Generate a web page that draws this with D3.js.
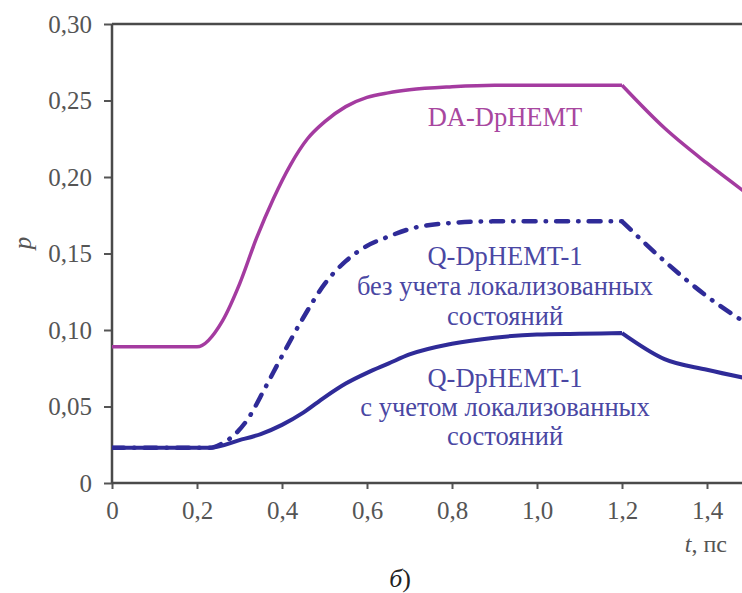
<!DOCTYPE html>
<html>
<head>
<meta charset="utf-8">
<script src="https://cdn.jsdelivr.net/npm/d3@7"></script>
<style>
  body { margin: 0; background: #fff; }
  svg { display: block; }
  .tick text { font-family: "Liberation Serif", "Times New Roman", serif; font-size: 25px; fill: #555; }
  .note { font-family: "Liberation Serif", "Times New Roman", serif; font-size: 26.5px; text-anchor: middle; }
</style>
</head>
<body>
<div id="chart"></div>
<script>
// time, ps  (the break at 1.2 ps is kept as a sharp corner)
var tDA = [0, 0.2, 0.26, 0.30, 0.34, 0.38, 0.42, 0.46, 0.50, 0.55, 0.60, 0.65, 0.70, 0.80, 0.90, 1.2, 1.3, 1.4, 1.5];
var pDA = [0.089, 0.089, 0.106, 0.130, 0.160, 0.186, 0.208, 0.225, 0.236, 0.246, 0.252, 0.255, 0.257, 0.259, 0.260, 0.260, 0.232, 0.209, 0.188];

var tNoLoc = [0, 0.23, 0.26, 0.29, 0.32, 0.36, 0.40, 0.45, 0.50, 0.55, 0.60, 0.65, 0.70, 0.80, 0.90, 1.0, 1.2, 1.3, 1.4, 1.5];
var pNoLoc = [0.023, 0.023, 0.026, 0.032, 0.042, 0.062, 0.083, 0.108, 0.130, 0.145, 0.155, 0.161, 0.166, 0.170, 0.171, 0.171, 0.171, 0.145, 0.122, 0.103];

var tLoc = [0, 0.23, 0.30, 0.35, 0.40, 0.45, 0.50, 0.55, 0.60, 0.65, 0.70, 0.80, 0.90, 1.0, 1.1, 1.2, 1.3, 1.4, 1.5];
var pLoc = [0.023, 0.023, 0.028, 0.032, 0.038, 0.046, 0.056, 0.065, 0.072, 0.078, 0.084, 0.091, 0.095, 0.097, 0.0975, 0.098, 0.081, 0.074, 0.068];

var xTicks = [0, 0.2, 0.4, 0.6, 0.8, 1.0, 1.2, 1.4];
var yTicks = [0, 0.05, 0.10, 0.15, 0.20, 0.25, 0.30];
var tBreak = 1.2;

var width = 742, height = 593;
var mLeft = 112, mTop = 24, mBottom = 483;
var serif = '"Liberation Serif", "Times New Roman", serif';

var svg = d3.select('#chart').append('svg')
  .attr('width', width)
  .attr('height', height);

var x = d3.scaleLinear().domain([0, 1.5]).range([mLeft, mLeft + 1.5 * 425]);
var y = d3.scaleLinear().domain([0, 0.30]).range([mBottom, mTop]);

svg.append('defs').append('clipPath').attr('id', 'plot')
  .append('rect').attr('x', mLeft).attr('y', mTop).attr('width', width - mLeft).attr('height', mBottom - mTop);

// axes
svg.append('g')
  .attr('transform', 'translate(' + mLeft + ',0)')
  .attr('font-family', serif)
  .call(d3.axisLeft(y).tickValues(yTicks).tickSize(8).tickSizeOuter(0).tickPadding(12)
    .tickFormat(function (d) { return d === 0 ? '0' : d3.format('.2f')(d).replace('.', ','); }));

svg.append('g')
  .attr('transform', 'translate(0,' + mBottom + ')')
  .call(d3.axisBottom(x).tickValues(xTicks).tickSize(6).tickSizeOuter(0).tickPadding(12)
    .tickFormat(function (d) { return d === 0 ? '0' : d3.format('.1f')(d).replace('.', ','); }));

svg.selectAll('.domain').remove();
svg.selectAll('.tick line').attr('stroke', '#555').attr('stroke-width', 2);
svg.selectAll('.tick text').attr('font-family', serif);

// frame
svg.append('line').attr('x1', mLeft).attr('x2', width).attr('y1', mTop).attr('y2', mTop)
  .attr('stroke', '#4a4a4a').attr('stroke-width', 2.5);
svg.append('line').attr('x1', mLeft).attr('x2', width).attr('y1', mBottom).attr('y2', mBottom)
  .attr('stroke', '#4a4a4a').attr('stroke-width', 2.5);
svg.append('line').attr('x1', mLeft).attr('x2', mLeft).attr('y1', mTop).attr('y2', mBottom)
  .attr('stroke', '#4a4a4a').attr('stroke-width', 2.5);

var line = d3.line()
  .x(function (d) { return x(d[0]); })
  .y(function (d) { return y(d[1]); })
  .curve(d3.curveMonotoneX);

// two pieces so the 1.2 ps break stays sharp
function pieces(ts, ps) {
  var pts = d3.zip(ts, ps);
  return [pts.filter(function (d) { return d[0] <= tBreak; }),
          pts.filter(function (d) { return d[0] >= tBreak; })];
}

var plot = svg.append('g').attr('clip-path', 'url(#plot)');

function drawSeries(ts, ps, color, w, dash) {
  var p = plot.append('path')
    .attr('d', pieces(ts, ps).map(line).join(''))
    .attr('fill', 'none').attr('stroke', color).attr('stroke-width', w)
    .attr('stroke-linejoin', 'round');
  if (dash) p.attr('stroke-dasharray', dash).attr('stroke-linecap', 'round');
}

drawSeries(tLoc, pLoc, '#2f2b98', 4);
drawSeries(tNoLoc, pNoLoc, '#2f2b98', 4.5, '12,10,0.5,10');
drawSeries(tDA, pDA, '#a43ba0', 3.5);

// labels
svg.append('text').attr('class', 'note').attr('x', 505).attr('y', 126)
  .attr('font-family', serif).attr('fill', '#a8479f').text('DA-DpHEMT');

var upper = ['Q-DpHEMT-1', 'без учета локализованных', 'состояний'];
upper.forEach(function (s, i) {
  svg.append('text').attr('class', 'note').attr('x', 505).attr('y', 265 + i * 30)
    .attr('font-family', serif).attr('fill', '#4a47a3').text(s);
});
var lower = ['Q-DpHEMT-1', 'с учетом локализованных', 'состояний'];
lower.forEach(function (s, i) {
  svg.append('text').attr('class', 'note').attr('x', 505).attr('y', 387 + i * 29)
    .attr('font-family', serif).attr('fill', '#4a47a3').text(s);
});

svg.append('text')
  .attr('transform', 'translate(31,243) rotate(-90)')
  .attr('text-anchor', 'middle')
  .style('font-family', serif).style('font-size', '25px')
  .style('font-style', 'italic').attr('fill', '#555').text('p');

var tl = svg.append('text').attr('x', 727).attr('y', 552).attr('text-anchor', 'end')
  .style('font-family', serif).style('font-size', '24px').attr('fill', '#555');
tl.append('tspan').style('font-style', 'italic').text('t');
tl.append('tspan').text(', пс');

var cap = svg.append('text').attr('x', 400).attr('y', 587).attr('text-anchor', 'middle')
  .style('font-family', serif).style('font-size', '26px').attr('fill', '#222');
cap.append('tspan').style('font-style', 'italic').text('б');
cap.append('tspan').text(')');
</script>
</body>
</html>
